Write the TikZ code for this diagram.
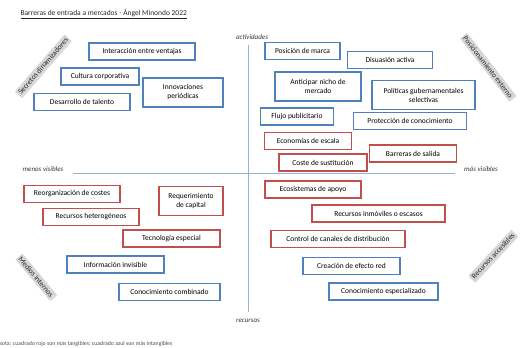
\documentclass[tikz,border=0pt]{standalone}
\usepackage{fontspec}
\setmainfont{Carlito}
\usetikzlibrary{positioning, shadows}
\definecolor{boxblue}{HTML}{4F81BD}
\definecolor{boxred}{HTML}{C0504D}
\definecolor{axisblue}{HTML}{95B3D7}
\definecolor{bandgray}{HTML}{D6D6D6}

\begin{document}
\begin{tikzpicture}[x=1pt, y=-1pt, font=\fontsize{7.5}{9}\selectfont,
  barrier/.style={draw, line width=1.3pt, fill=white, align=center, minimum height=17pt, inner sep=2pt},
  bluebox/.style={barrier, draw=boxblue},
  redbox/.style={barrier, draw=boxred},
  twoline/.style={minimum height=29pt},
  axislabel/.style={font=\fontsize{7}{8}\selectfont\itshape, text=black!80},
  band/.style={fill=bandgray, inner sep=1.8pt, font=\fontsize{7.5}{8}\selectfont, text=black!85,
    drop shadow={opacity=0.25, shadow xshift=0.8pt, shadow yshift=-0.8pt}}]
  \useasboundingbox (0,0) rectangle (522,348);

  % Titulo
  \node[anchor=west, text=black!85] (titulo) at (17,14) {\underline{Barreras de entrada a mercados - Ángel Minondo 2022}};

  % Ejes
  \coordinate (arriba) at (248,45);
  \coordinate (abajo) at (248,312);
  \coordinate (izq) at (73,173);
  \coordinate (der) at (455,173);
  \draw[axisblue, line width=0.6pt] (arriba) -- (abajo);
  \draw[axisblue, line width=0.6pt] (izq) -- (der);
  \node[axislabel] (actividades) at (252,37) {actividades};
  \node[axislabel] (recursos) at (248,321) {recursos};
  \node[axislabel] (menos) at (43,169) {menos visibles};
  \node[axislabel] (mas) at (481,169) {más visibles};

  % Bandas de las esquinas
  \node[band, rotate=49] (secretos) at (43,66) {Secretos dinamizadores};
  \node[band, rotate=-52] (posicion) at (488,67) {Posicionamiento externo};
  \node[band, rotate=-50] (medios) at (36,277) {Medios internos};
  \node[band, rotate=47] (accesibles) at (493,256) {Recursos accesibles};

  % Cuadrante superior izquierdo
  \node[bluebox, minimum width=106pt] (interaccion) at (142,51.5) {Interacción entre ventajas};
  \node[bluebox, minimum width=78pt] (cultura) at (100,76.5) {Cultura corporativa};
  \node[bluebox, twoline, minimum width=80pt] (innovaciones) at (183,92.5) {Innovaciones\\periódicas};
  \node[bluebox, minimum width=96pt] (talento) at (82,102) {Desarrollo de talento};

  % Cuadrante superior derecho
  \node[bluebox, minimum width=75pt] (marca) at (302.5,51) {Posición de marca};
  \node[bluebox, minimum width=85pt] (disuasion) at (390,60) {Disuasión activa};
  \node[bluebox, twoline, minimum width=86pt] (nicho) at (318,86.5) {Anticipar nicho de\\mercado};
  \node[bluebox, twoline, minimum width=103pt] (politicas) at (423.5,95) {Políticas gubernamentales\\selectivas};
  \node[bluebox, minimum width=73pt] (flujo) at (297,116.5) {Flujo publicitario};
  \node[bluebox, minimum width=113pt] (proteccion) at (410,121) {Protección de conocimiento};
  \node[redbox, minimum width=87pt] (economias) at (308,141) {Economías de escala};
  \node[redbox, minimum width=87pt] (salida) at (413,153.5) {Barreras de salida};
  \node[redbox, minimum width=88pt] (sustitucion) at (323,162.5) {Coste de sustitución};

  % Cuadrante inferior izquierdo
  \node[redbox, minimum width=96pt] (reorganizacion) at (72,194) {Reorganización de costes};
  \node[redbox, twoline, minimum width=64pt] (capital) at (191,201) {Requerimiento\\de capital};
  \node[redbox, minimum width=96pt] (heterogeneos) at (91,217) {Recursos heterogéneos};
  \node[redbox, minimum width=97pt] (tecnologia) at (171.5,238.5) {Tecnología especial};
  \node[bluebox, minimum width=97pt] (invisible) at (115.5,264.5) {Información invisible};
  \node[bluebox, minimum width=101pt] (combinado) at (169.5,292) {Conocimiento combinado};

  % Cuadrante inferior derecho
  \node[redbox, minimum width=96pt] (ecosistemas) at (313,189.5) {Ecosistemas de apoyo};
  \node[redbox, minimum width=133pt] (inmoviles) at (378.5,213.5) {Recursos inmóviles o escasos};
  \node[redbox, minimum width=134pt] (canales) at (338,239) {Control de canales de distribución};
  \node[bluebox, minimum width=97pt] (efecto) at (351.5,266) {Creación de efecto red};
  \node[bluebox, minimum width=109pt] (especializado) at (383.5,291.5) {Conocimiento especializado};

  % Nota
  \node[anchor=west, font=\fontsize{5.8}{6.5}\selectfont, text=black!70, inner sep=0pt] (nota) at (-2,344)
    {Nota: cuadrado rojo son más tangibles; cuadrado azul son más intangibles};
\end{tikzpicture}
\end{document}
